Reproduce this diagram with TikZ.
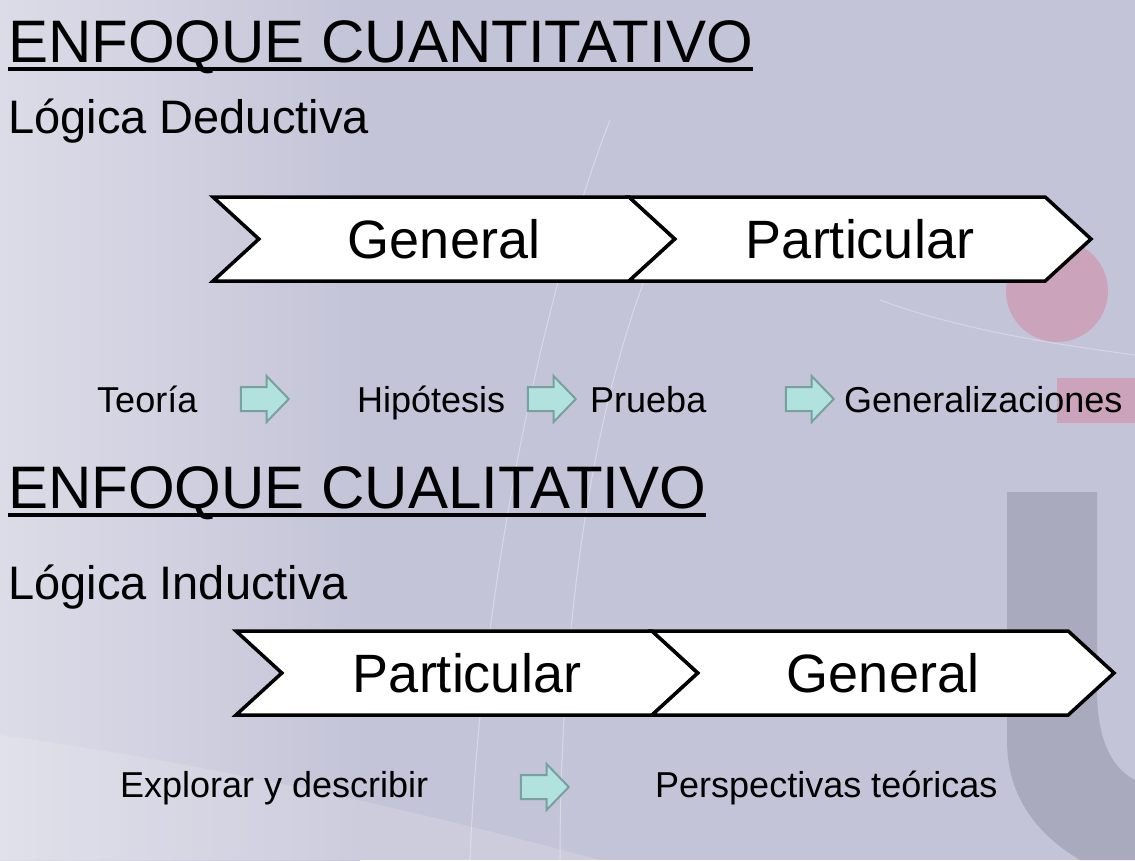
\documentclass[tikz,border=0pt]{standalone}
\usepackage{fontspec}
\setmainfont{Liberation Sans}
\usepackage{xcolor}
\usepackage{tikz}
\usetikzlibrary{positioning,arrows.meta,shapes.symbols,shapes.arrows}

\definecolor{bgbase}{RGB}{196,196,216}
\definecolor{bglight}{RGB}{220,220,232}
\definecolor{bgbar}{RGB}{170,170,190}
\definecolor{bgpink}{RGB}{203,163,186}
\definecolor{arrowfill}{RGB}{178,226,222}
\definecolor{arrowline}{RGB}{120,160,158}

\tikzset{
  chevron/.style={draw, line width=3.5pt, fill=white, signal, signal from=west,
                  signal to=east, signal pointer angle=85, inner sep=0pt,
                  minimum width=462pt, minimum height=84pt,
                  font=\fontsize{54}{60}\selectfont},
  blockarrow/.style={single arrow, draw=arrowline, fill=arrowfill, line width=2pt,
                     inner xsep=0pt, inner ysep=11pt, minimum height=48pt, minimum width=44pt,
                     single arrow head extend=11pt, single arrow tip angle=92},
  heading/.style={anchor=base west, inner sep=0pt, font=\fontsize{60}{70}\selectfont},
  subheading/.style={anchor=base west, inner sep=0pt, font=\fontsize{47}{56}\selectfont},
  steplabel/.style={anchor=base west, inner sep=0pt, font=\fontsize{36}{42}\selectfont}
}

\begin{document}
\begin{tikzpicture}[x=1pt, y=-1pt, >=Stealth]
  \def\ulgap{7pt}

  % background
  \useasboundingbox (0,0) rectangle (1135,860);
  \fill[bgbase] (0,0) rectangle (1135,860);
  \shade[left color=bglight, right color=bgbase] (0,0) rectangle (360,860);
  \fill[white, opacity=0.15] (0,735) .. controls (250,770) and (450,820) .. (600,860) -- (0,860) -- cycle;
  \draw[white, opacity=0.35, line width=1pt] (470,860) .. controls (480,600) and (540,300) .. (610,120);
  \draw[white, opacity=0.35, line width=1pt] (560,860) .. controls (560,600) and (600,350) .. (680,200);
  \draw[white, opacity=0.3, line width=1pt] (880,300) .. controls (960,330) and (1060,345) .. (1135,355);
  \fill[bgpink] (1057,291) circle (51);
  \fill[bgpink] (1057,378) rectangle (1135,423);
  \fill[bgbar] (1007,492) -- (1097,492) -- (1097,690)
       .. controls (1097,745) and (1115,770) .. (1135,780) -- (1135,860) -- (1080,860)
       .. controls (1030,830) and (1007,790) .. (1007,740) -- cycle;

  % quantitative approach
  \node[heading] (quanttitle) at (8,62) {ENFOQUE CUANTITATIVO};
  \draw[line width=3.5pt] ([yshift=-\ulgap]quanttitle.base west) -- ([yshift=-\ulgap]quanttitle.base east);
  \node[subheading] (deductive) at (8,133) {Lógica Deductiva};

  \node[chevron] (qgeneral) at (444,239) {General};
  \node[chevron] (qparticular) at (860,239) {Particular};

  \node[steplabel] (theory) at (97,412) {Teoría};
  \node[blockarrow] (qarr1) at (259,399) {};
  \node[steplabel] (hypothesis) at (357,412) {Hipótesis};
  \node[blockarrow] (qarr2) at (546,399) {};
  \node[steplabel] (test) at (590,412) {Prueba};
  \node[blockarrow] (qarr3) at (804,399) {};
  \node[steplabel] (generalization) at (844,412) {Generalizaciones};

  % qualitative approach
  \node[heading] (qualtitle) at (8,508) {ENFOQUE CUALITATIVO};
  \draw[line width=3.5pt] ([yshift=-\ulgap]qualtitle.base west) -- ([yshift=-\ulgap]qualtitle.base east);
  \node[subheading] (inductive) at (8,599) {Lógica Inductiva};

  \node[chevron] (lparticular) at (467,673) {Particular};
  \node[chevron] (lgeneral) at (883,673) {General};

  \node[steplabel] (explore) at (120,797) {Explorar y describir};
  \node[blockarrow] (larr) at (539,787) {};
  \node[steplabel] (perspective) at (655,797) {Perspectivas teóricas};
\end{tikzpicture}
\end{document}
